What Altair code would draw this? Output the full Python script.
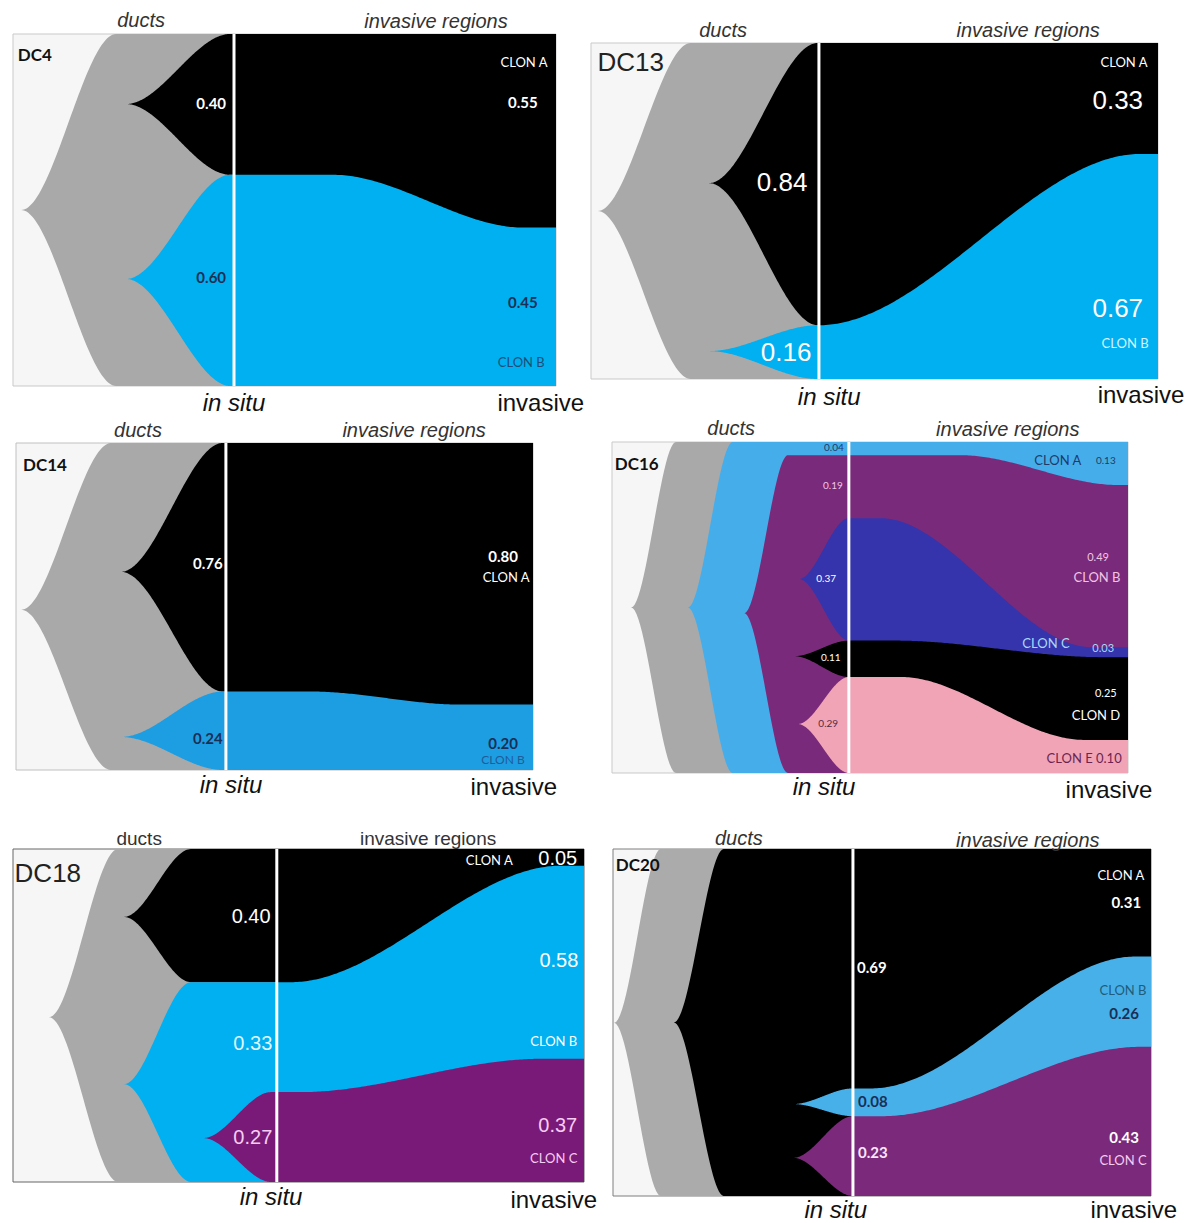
import altair as alt
import numpy as np
import pandas as pd

# ---------------- data: clone fractions (top-to-bottom stacking order) ----------------
DC4_CLONES = ["A", "B"]
DC4_IN_SITU = [0.40, 0.60]
DC4_INVASIVE = [0.55, 0.45]
DC4_PARENTS = ["ducts", "ducts"]

DC13_CLONES = ["A", "B"]
DC13_IN_SITU = [0.84, 0.16]
DC13_INVASIVE = [0.33, 0.67]
DC13_PARENTS = ["ducts", "ducts"]

DC14_CLONES = ["A", "B"]
DC14_IN_SITU = [0.76, 0.24]
DC14_INVASIVE = [0.80, 0.20]
DC14_PARENTS = ["ducts", "ducts"]

DC16_CLONES = ["A", "B", "C", "D", "E"]
DC16_IN_SITU = [0.04, 0.19, 0.37, 0.11, 0.29]
DC16_INVASIVE = [0.13, 0.49, 0.03, 0.25, 0.10]
DC16_PARENTS = ["ducts", "A", "B", "B", "B"]

DC18_CLONES = ["A", "B", "C"]
DC18_IN_SITU = [0.40, 0.33, 0.27]
DC18_INVASIVE = [0.05, 0.58, 0.37]
DC18_PARENTS = ["ducts", "ducts", "B"]

DC20_CLONES = ["A", "B", "C"]
DC20_IN_SITU = [0.69, 0.08, 0.23]
DC20_INVASIVE = [0.31, 0.26, 0.43]
DC20_PARENTS = ["ducts", "A", "A"]

# ---------------- styles / layout ----------------
FONTS = {
    "cal_b": ("Lato", "bold", "normal"),
    "cal": ("Lato", "normal", "normal"),
    "ari": ("Liberation Sans", "normal", "normal"),
    "ari_i": ("Liberation Sans", "normal", "italic"),
}
BG = "#f6f6f6"
NAVY = "#1a2f55"

# row cells (top, bottom) in page pixels
ROWS = [(10, 416), (416, 806), (806, 1214)]

PANELS = {
    "DC4": dict(
        box=(12, 33, 543, 352), cellx=(12, 555), row=0, s=0.407, border="#c9c9c9",
        clones=DC4_CLONES, insitu=DC4_IN_SITU, invasive=DC4_INVASIVE, parents=DC4_PARENTS,
        colors={"ducts": "#a9a9a9", "A": "#000000", "B": "#00b0f0"},
        emerge={"ducts": (0.015, 0.50, 0.19), "A": (0.208, 0.199, 0.40), "B": (0.208, 0.696, 0.40)},
        trans=[(0.59, 0.94)],
        labels=[
            ("DC4", 0.040, 0.0625, "#111111", 17, "cal_b"),
            ("0.40", 0.365, 0.199, "#ffffff", 15, "cal_b"),
            ("0.60", 0.365, 0.693, NAVY, 15, "cal_b"),
            ("CLON A", 0.941, 0.082, "#ffffff", 13, "cal"),
            ("0.55", 0.939, 0.196, "#ffffff", 15, "cal_b"),
            ("0.45", 0.939, 0.764, NAVY, 15, "cal_b"),
            ("CLON B", 0.936, 0.935, "#1f4e79", 13, "cal"),
            ("ducts", 0.236, -0.037, "#333333", 20, "ari_i"),
            ("invasive regions", 0.779, -0.034, "#333333", 20, "ari_i"),
            ("in situ", 0.407, 1.051, "#111111", 24, "ari_i"),
            ("invasive", 0.972, 1.051, "#111111", 24, "ari"),
        ],
    ),
    "DC13": dict(
        box=(590, 42, 567, 336), cellx=(590, 1157), row=0, s=0.402, border="#c9c9c9",
        clones=DC13_CLONES, insitu=DC13_IN_SITU, invasive=DC13_INVASIVE, parents=DC13_PARENTS,
        colors={"ducts": "#a9a9a9", "A": "#000000", "B": "#00b0f0"},
        emerge={"ducts": (0.012, 0.50, 0.176), "A": (0.208, 0.417, 0.40), "B": (0.208, 0.917, 0.40)},
        trans=[(0.402, 0.97)],
        labels=[
            ("DC13", 0.070, 0.060, "#222222", 26, "ari"),
            ("0.84", 0.337, 0.417, "#ffffff", 26, "ari"),
            ("0.16", 0.344, 0.923, "#ffffff", 26, "ari"),
            ("CLON A", 0.940, 0.060, "#ffffff", 13, "cal"),
            ("0.33", 0.929, 0.173, "#ffffff", 26, "ari"),
            ("0.67", 0.929, 0.792, "#ffffff", 26, "ari"),
            ("CLON B", 0.942, 0.896, "#d6f3ff", 13, "cal"),
            ("ducts", 0.233, -0.036, "#333333", 20, "ari_i"),
            ("invasive regions", 0.771, -0.036, "#333333", 20, "ari_i"),
            ("in situ", 0.420, 1.057, "#111111", 24, "ari_i"),
            ("invasive", 0.970, 1.051, "#111111", 24, "ari"),
        ],
    ),
    "DC14": dict(
        box=(15, 442, 517, 327), cellx=(12, 532), row=1, s=0.406, border="#c0c0c0",
        clones=DC14_CLONES, insitu=DC14_IN_SITU, invasive=DC14_INVASIVE, parents=DC14_PARENTS,
        colors={"ducts": "#a9a9a9", "A": "#000000", "B": "#1d9ee3"},
        emerge={"ducts": (0.010, 0.51, 0.184), "A": (0.203, 0.394, 0.40), "B": (0.203, 0.899, 0.40)},
        trans=[(0.571, 0.861)],
        labels=[
            ("DC14", 0.056, 0.070, "#111111", 17, "cal_b"),
            ("0.76", 0.371, 0.370, "#ffffff", 15, "cal_b"),
            ("0.24", 0.371, 0.905, NAVY, 15, "cal_b"),
            ("0.80", 0.942, 0.349, "#ffffff", 15, "cal_b"),
            ("CLON A", 0.948, 0.413, "#ffffff", 13, "cal"),
            ("0.20", 0.942, 0.920, NAVY, 15, "cal_b"),
            ("CLON B", 0.942, 0.969, "#1f5c99", 12, "cal"),
            ("ducts", 0.236, -0.037, "#333333", 20, "ari_i"),
            ("invasive regions", 0.770, -0.037, "#333333", 20, "ari_i"),
            ("in situ", 0.416, 1.049, "#111111", 24, "ari_i"),
            ("invasive", 0.963, 1.055, "#111111", 24, "ari"),
        ],
    ),
    "DC16": dict(
        box=(611, 441, 516, 331), cellx=(611, 1127), row=1, s=0.459, border="#c9c9c9",
        clones=DC16_CLONES, insitu=DC16_IN_SITU, invasive=DC16_INVASIVE, parents=DC16_PARENTS,
        colors={"ducts": "#a9a9a9", "A": "#45aeea", "B": "#7a2a7a", "C": "#3534ac",
                "D": "#000000", "E": "#f0a4b6"},
        emerge={"ducts": (0.037, 0.50, 0.124), "A": (0.147, 0.50, 0.234), "B": (0.256, 0.517, 0.341),
                "C": (0.362, 0.414, 0.459), "D": (0.353, 0.647, 0.459), "E": (0.360, 0.852, 0.459)},
        trans=[(0.676, 0.981), (0.52, 0.93), (0.55, 0.95), (0.56, 0.915)],
        labels=[
            ("DC16", 0.048, 0.069, "#111111", 17, "cal_b"),
            ("0.04", 0.430, 0.018, "#1f3a6a", 10, "cal"),
            ("0.19", 0.428, 0.133, "#f2c4e4", 10, "cal"),
            ("0.37", 0.415, 0.414, "#ffffff", 10, "cal"),
            ("0.11", 0.424, 0.653, "#ffffff", 10, "cal"),
            ("0.29", 0.419, 0.852, "#5a2a40", 10, "cal"),
            ("CLON A", 0.864, 0.057, "#1f3a6a", 13, "cal"),
            ("0.13", 0.957, 0.057, "#1f3a6a", 10, "cal"),
            ("0.49", 0.942, 0.350, "#f2c4e4", 11, "cal"),
            ("CLON B", 0.940, 0.411, "#f2c4e4", 13, "cal"),
            ("CLON C", 0.841, 0.610, "#a8d8f8", 13, "cal"),
            ("0.03", 0.952, 0.625, "#a8d8f8", 11, "cal"),
            ("0.25", 0.957, 0.761, "#ffffff", 11, "cal"),
            ("CLON D", 0.938, 0.828, "#ffffff", 13, "cal"),
            ("CLON E 0.10", 0.915, 0.958, "#6b2452", 13, "cal"),
            ("ducts", 0.231, -0.039, "#333333", 20, "ari_i"),
            ("invasive regions", 0.767, -0.036, "#333333", 20, "ari_i"),
            ("in situ", 0.411, 1.045, "#111111", 24, "ari_i"),
            ("invasive", 0.963, 1.054, "#111111", 24, "ari"),
        ],
    ),
    "DC18": dict(
        box=(12, 848, 571, 333), cellx=(12, 583), row=2, s=0.462, border="#666666",
        clones=DC18_CLONES, insitu=DC18_IN_SITU, invasive=DC18_INVASIVE, parents=DC18_PARENTS,
        colors={"ducts": "#a9a9a9", "A": "#000000", "B": "#00b0f0", "C": "#7a1a78"},
        emerge={"ducts": (0.063, 0.505, 0.184), "A": (0.194, 0.204, 0.312),
                "B": (0.194, 0.706, 0.312), "C": (0.333, 0.868, 0.452)},
        trans=[(0.487, 0.96), (0.504, 0.925)],
        labels=[
            ("DC18", 0.061, 0.075, "#222222", 26, "ari"),
            ("0.40", 0.417, 0.204, "#ffffff", 20, "ari"),
            ("0.33", 0.420, 0.586, "#dff6ff", 20, "ari"),
            ("0.27", 0.420, 0.868, "#f6cdf2", 20, "ari"),
            ("CLON A", 0.834, 0.036, "#ffffff", 13, "cal"),
            ("0.05", 0.954, 0.030, "#ffffff", 20, "ari"),
            ("0.58", 0.956, 0.336, "#ffffff", 20, "ari"),
            ("CLON B", 0.947, 0.580, "#ffffff", 13, "cal"),
            ("0.37", 0.954, 0.832, "#f6cdf2", 20, "ari"),
            ("CLON C", 0.947, 0.931, "#f6cdf2", 13, "cal"),
            ("ducts", 0.221, -0.030, "#333333", 19, "ari"),
            ("invasive regions", 0.727, -0.030, "#333333", 19, "ari"),
            ("in situ", 0.452, 1.048, "#111111", 24, "ari_i"),
            ("invasive", 0.947, 1.057, "#111111", 24, "ari"),
        ],
    ),
    "DC20": dict(
        box=(612, 848, 538, 347), cellx=(612, 1150), row=2, s=0.446, border="#7f7f7f",
        clones=DC20_CLONES, insitu=DC20_IN_SITU, invasive=DC20_INVASIVE, parents=DC20_PARENTS,
        colors={"ducts": "#ababab", "A": "#000000", "B": "#47b0e9", "C": "#7b2a7b"},
        emerge={"ducts": (0.002, 0.501, 0.089), "A": (0.113, 0.50, 0.206),
                "B": (0.335, 0.735, 0.446), "C": (0.335, 0.890, 0.446)},
        trans=[(0.48, 0.97), (0.50, 0.98)],
        labels=[
            ("DC20", 0.046, 0.049, "#111111", 17, "cal_b"),
            ("0.69", 0.481, 0.343, "#ffffff", 15, "cal_b"),
            ("0.08", 0.483, 0.729, NAVY, 15, "cal_b"),
            ("0.23", 0.483, 0.876, "#fbe6fb", 15, "cal_b"),
            ("CLON A", 0.944, 0.078, "#ffffff", 13, "cal"),
            ("0.31", 0.954, 0.156, "#ffffff", 15, "cal_b"),
            ("CLON B", 0.948, 0.409, "#1f5d7a", 13, "cal"),
            ("0.26", 0.950, 0.476, NAVY, 15, "cal_b"),
            ("0.43", 0.950, 0.833, "#ffffff", 15, "cal_b"),
            ("CLON C", 0.948, 0.899, "#f6cdf2", 13, "cal"),
            ("ducts", 0.234, -0.029, "#333333", 20, "ari_i"),
            ("invasive regions", 0.771, -0.023, "#333333", 20, "ari_i"),
            ("in situ", 0.414, 1.043, "#111111", 24, "ari_i"),
            ("invasive", 0.968, 1.043, "#111111", 24, "ari"),
        ],
    ),
}


def smooth(u):
    u = np.clip(u, 0.0, 1.0)
    return u * u * (3 - 2 * u)


def build_panel(p):
    x0p, y0p, W, H = p["box"]
    top, bot = ROWS[p["row"]]
    cx0, cx1 = p["cellx"]
    XS = alt.Scale(domain=[(cx0 - x0p) / W, (cx1 - x0p) / W], nice=False, zero=False)
    YS = alt.Scale(domain=[(top - y0p) / H, (bot - y0p) / H], nice=False, zero=False, reverse=True)

    def enc(chart):
        return chart.encode(
            x=alt.X("x:Q", scale=XS, axis=None),
            y=alt.Y("y:Q", scale=YS, axis=None),
            y2="y2:Q",
        )

    clones, parents = p["clones"], p["parents"]
    s = p["s"]
    cin = np.concatenate([[0.0], np.cumsum(p["insitu"])])
    cinv = np.concatenate([[0.0], np.cumsum(p["invasive"])])
    cin[-1] = 1.0
    cinv[-1] = 1.0

    def descendants(c):
        out = [c]
        for k, par in enumerate(parents):
            if par == c:
                out += descendants(clones[k])
        return out

    def depth(c):
        d = 0
        while c != "ducts":
            c = parents[clones.index(c)]
            d += 1
        return d

    layers = []
    box = pd.DataFrame({"x": [0.0], "x2": [1.0], "y": [0.0], "y2": [1.0]})
    layers.append(
        alt.Chart(box).mark_rect(fill=BG, stroke=p["border"], strokeWidth=1).encode(
            x=alt.X("x:Q", scale=XS, axis=None), x2="x2:Q",
            y=alt.Y("y:Q", scale=YS, axis=None), y2="y2:Q")
    )

    # in-situ phase: each clone emerges from a point inside its parent
    order = ["ducts"] + sorted(clones, key=lambda c: (depth(c), clones.index(c)))
    for c in order:
        ex0, yp, ex1 = p["emerge"][c]
        if c == "ducts":
            t, b = 0.0, 1.0
        else:
            idx = [clones.index(d) for d in descendants(c)]
            t, b = cin[min(idx)], cin[max(idx) + 1]
        xs = np.linspace(ex0, s, 120)
        f = smooth((xs - ex0) / (ex1 - ex0))
        df = pd.DataFrame({"x": xs, "y": yp + (t - yp) * f, "y2": yp + (b - yp) * f})
        layers.append(enc(alt.Chart(df).mark_area(color=p["colors"][c], strokeWidth=0)))

    # invasive phase: boundaries between neighbouring clones move smoothly
    xs = np.linspace(s, 1.0, 150)
    bounds = [np.zeros_like(xs)]
    for k in range(1, len(clones)):
        t0, t1 = p["trans"][k - 1]
        bounds.append(cin[k] + (cinv[k] - cin[k]) * smooth((xs - t0) / (t1 - t0)))
    for k, c in enumerate(clones):
        df = pd.DataFrame({"x": xs, "y": bounds[k], "y2": np.ones_like(xs)})
        layers.append(enc(alt.Chart(df).mark_area(color=p["colors"][c], strokeWidth=0)))

    # in situ divider
    rule = pd.DataFrame({"x": [s], "y": [0.0], "y2": [1.0]})
    layers.append(enc(alt.Chart(rule).mark_rule(color="#ffffff", strokeWidth=3)))

    # texts
    lab = pd.DataFrame(p["labels"], columns=["t", "x", "y", "c", "fs", "f"])
    for key, (font, weight, style) in FONTS.items():
        sub = lab[lab["f"] == key]
        if len(sub) == 0:
            continue
        layers.append(
            alt.Chart(sub).mark_text(font=font, fontWeight=weight, fontStyle=style,
                                     align="center", baseline="middle").encode(
                x=alt.X("x:Q", scale=XS, axis=None),
                y=alt.Y("y:Q", scale=YS, axis=None),
                text="t:N",
                color=alt.Color("c:N", scale=None),
                size=alt.Size("fs:Q", scale=None),
            )
        )
    return alt.layer(*layers).properties(width=cx1 - cx0, height=bot - top)


P = {k: build_panel(v) for k, v in PANELS.items()}


def gap(left, right):
    return PANELS[right]["cellx"][0] - PANELS[left]["cellx"][1]


row1 = alt.hconcat(P["DC4"], P["DC13"], spacing=gap("DC4", "DC13"), bounds="flush")
row2 = alt.hconcat(P["DC14"], P["DC16"], spacing=gap("DC14", "DC16"), bounds="flush")
row3 = alt.hconcat(P["DC18"], P["DC20"], spacing=gap("DC18", "DC20"), bounds="flush")

chart = (
    alt.vconcat(row1, row2, row3, spacing=0)
    .properties(padding={"left": 4, "top": 2, "right": 0, "bottom": 0})
    .configure_view(stroke=None, fill="#ffffff")
)

chart.save("out.html", embed_options={"renderer": "svg", "actions": False})
